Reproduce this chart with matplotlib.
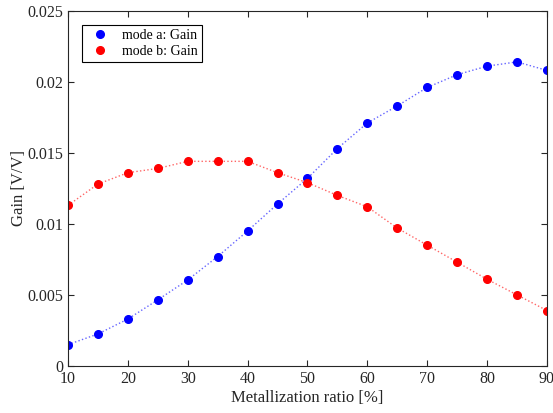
import matplotlib.pyplot as plt
import numpy as np

# metallization ratio [%]
ratio = [10, 15, 20, 25, 30, 35, 40, 45, 50, 55, 60, 65, 70, 75, 80, 85, 90]
gain_a = [0.0015, 0.00225, 0.0033, 0.00465, 0.00605, 0.0077, 0.0095, 0.0114, 0.0132,
          0.0153, 0.0171, 0.0183, 0.0196, 0.0205, 0.0211, 0.0214, 0.0208]
gain_b = [0.0113, 0.0128, 0.0136, 0.0139, 0.0144, 0.0144, 0.0144, 0.0136, 0.0129,
          0.0120, 0.0112, 0.0097, 0.0085, 0.0073, 0.0061, 0.0050, 0.0039]
yticks = [0, 0.005, 0.01, 0.015, 0.02, 0.025]
yticklabels = ['0', '0.005', '0.01', '0.015', '0.02', '0.025']

plt.rcParams['font.family'] = ['Liberation Serif', 'DejaVu Serif']

fig = plt.figure(figsize=(5.53, 4.13), dpi=100)
ax = fig.add_axes([0.123, 0.114, 0.866, 0.86])

ax.plot(ratio, gain_a, ':', color='#4040ff', lw=1.0, alpha=0.8)
ax.plot(ratio, gain_b, ':', color='#ff4040', lw=1.0, alpha=0.8)
ax.plot(ratio, gain_a, 'o', color='#0000ff', ms=5.5, label='mode a: Gain')
ax.plot(ratio, gain_b, 'o', color='#ff0000', ms=5.5, label='mode b: Gain')

ax.set_xlim(10, 90)
ax.set_ylim(0, 0.025)
ax.set_xticks(np.arange(10, 91, 10))
ax.set_yticks(yticks)
ax.set_yticklabels(yticklabels)
ax.tick_params(direction='in', top=True, right=True, labelsize=11.5, length=4,
               color='#262626', labelcolor='#262626')
for s in ax.spines.values():
    s.set_color('#262626')
    s.set_linewidth(0.8)

ax.set_xlabel('Metallization ratio [%]', fontsize=12, color='#262626', labelpad=2)
ax.set_ylabel('Gain [V/V]', fontsize=12, color='#262626', labelpad=0)

leg = ax.legend(loc='upper left', bbox_to_anchor=(0.029, 0.96), fontsize=10,
                fancybox=False, edgecolor='black', framealpha=1, borderaxespad=0,
                handletextpad=0.6, borderpad=0.3, labelspacing=0.2)
leg.get_frame().set_linewidth(0.8)

plt.savefig('out.png', dpi=100)
